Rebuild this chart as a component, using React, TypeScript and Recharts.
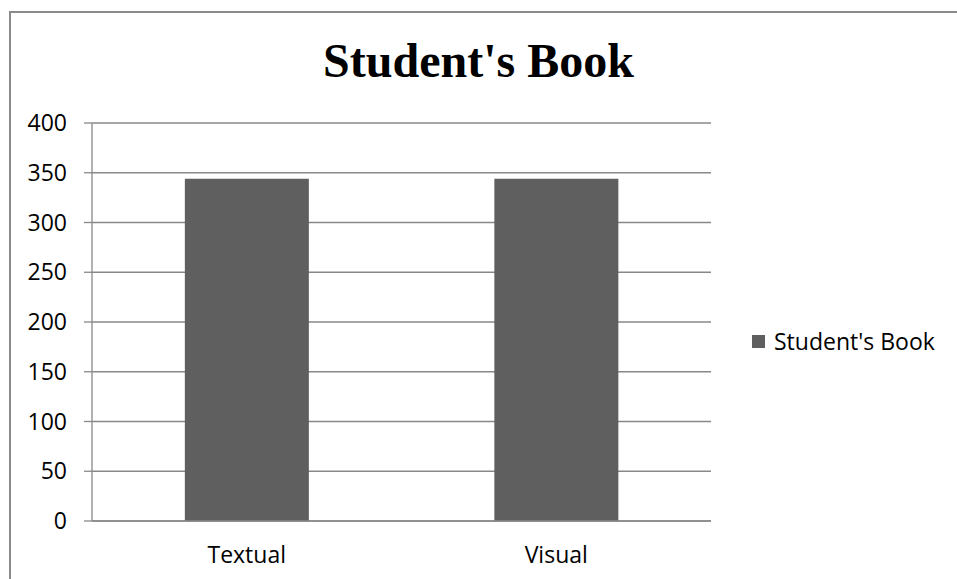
import React from "react";
import {
  BarChart,
  Bar,
  XAxis,
  YAxis,
  CartesianGrid,
  Legend,
} from "recharts";

// Chart values
const categories = ["Textual", "Visual"];
const studentsBook = [344, 344];
const yTicks = [0, 50, 100, 150, 200, 250, 300, 350, 400];
const edgeTicks = [0, 1, 2];
const seriesName = "Student's Book";
const chartTitle = "Student's Book";

const data = categories.map((c, i) => ({ name: c, value: studentsBook[i], pos: i + 0.5 }));

const AXIS = "#888888";
const BAR = "#5f5f5f";
const SANS = "'Open Sans', 'Noto Sans', sans-serif";

const renderLegend = () => (
  <div
    style={{
      display: "flex",
      alignItems: "center",
      fontFamily: SANS,
      fontSize: 23,
      lineHeight: "32px",
      color: "#000",
      paddingLeft: 41,
      whiteSpace: "nowrap",
    }}
  >
    <span
      style={{
        display: "inline-block",
        flexShrink: 0,
        width: 13,
        height: 13,
        background: BAR,
        marginRight: 9,
      }}
    />
    <span style={{ flexShrink: 0 }}>{seriesName}</span>
  </div>
);

export default function App() {
  return (
    <div
      style={{
        position: "absolute",
        left: 0,
        top: 0,
        width: 957,
        height: 579,
        overflow: "hidden",
        background: "#fff",
      }}
    >
      <div
        style={{
          position: "absolute",
          left: 9,
          top: 11,
          width: 1200,
          height: 1200,
          borderLeft: "2px solid #8a8a8a",
          borderTop: "2px solid #8a8a8a",
        }}
      />
      <div
        style={{
          position: "absolute",
          left: 0,
          width: 957,
          top: 32,
          textAlign: "center",
          fontFamily: "'Liberation Serif', serif",
          fontWeight: "bold",
          fontSize: 48,
          lineHeight: "58px",
          color: "#000",
        }}
      >
        {chartTitle}
      </div>
      <div style={{ position: "absolute", left: 0, top: 0 }}>
        <BarChart
          width={957}
          height={579}
          data={data}
          margin={{ top: 123, right: 46, bottom: 27, left: 32 }}
          barCategoryGap="30%"
        >
          <CartesianGrid vertical={false} stroke={AXIS} strokeWidth={1.3} />
          {/* axis line with tick marks at the category boundaries */}
          <XAxis
            xAxisId="a_base"
            type="number"
            dataKey="pos"
            domain={[0, 2]}
            ticks={edgeTicks}
            tick={false}
            tickSize={8}
            height={1}
            axisLine={{ stroke: AXIS, strokeWidth: 1.3 }}
            tickLine={{ stroke: AXIS, strokeWidth: 1.3 }}
          />
          <XAxis
            xAxisId="b_labels"
            dataKey="name"
            type="category"
            axisLine={false}
            tickLine={false}
            tickMargin={19}
            height={30}
            tick={{ fill: "#000", fontFamily: SANS, fontSize: 23 }}
          />
          <YAxis
            domain={[0, 400]}
            ticks={yTicks}
            width={60}
            tickSize={8}
            tickMargin={17}
            axisLine={{ stroke: AXIS, strokeWidth: 1.3 }}
            tickLine={{ stroke: AXIS, strokeWidth: 1.3 }}
            tick={{ fill: "#000", fontFamily: SANS, fontSize: 23 }}
            interval={0}
          />
          <Legend
            content={renderLegend}
            layout="vertical"
            align="right"
            verticalAlign="middle"
            wrapperStyle={{ width: 200, top: 325 }}
          />
          <Bar
            xAxisId="b_labels"
            dataKey="value"
            name={seriesName}
            fill={BAR}
            isAnimationActive={false}
          />
        </BarChart>
      </div>
    </div>
  );
}
